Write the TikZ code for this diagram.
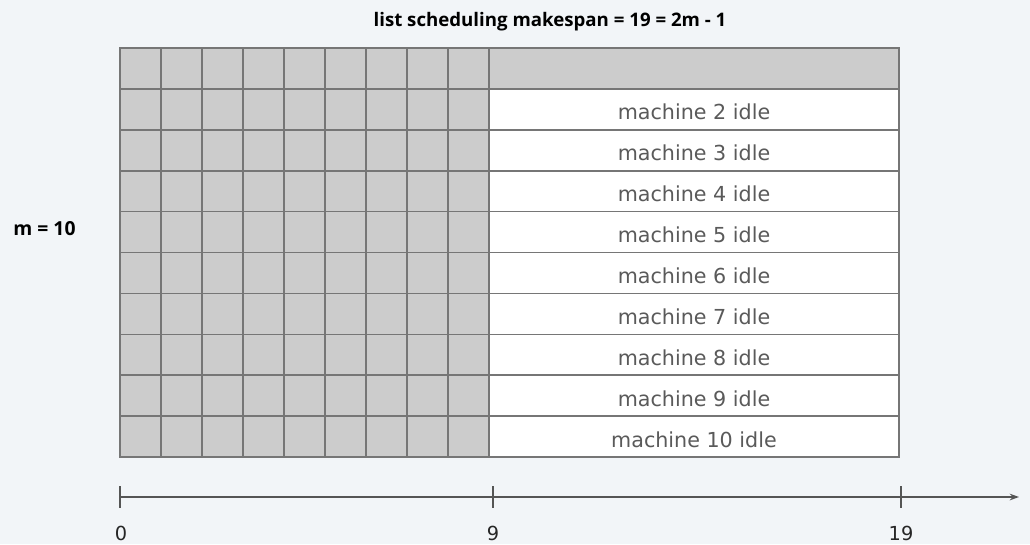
\documentclass[tikz,border=0pt]{standalone}
\usepackage{fontspec}
\setmainfont{DejaVu Sans}
\newfontfamily\titlefont{Open Sans}
\usetikzlibrary{arrows.meta}
\definecolor{bgcol}{HTML}{F2F5F8}
\definecolor{cellfill}{HTML}{CCCCCC}
\definecolor{gridline}{HTML}{767676}
\definecolor{idletext}{HTML}{5A5A5A}
\definecolor{axiscol}{HTML}{555555}
\tikzset{
  job/.style={draw=gridline, fill=cellfill, line width=1.2pt, minimum width=41*0.75pt, minimum height=40.9*0.75pt, inner sep=0pt, outer sep=0pt, anchor=north west},
  idle/.style={draw=gridline, fill=white, line width=1.2pt, minimum width=410*0.75pt, minimum height=40.9*0.75pt, inner sep=0pt, outer sep=0pt, anchor=north west, text=idletext, font=\fontsize{15.5}{18}\selectfont, text depth=0pt},
  busy/.style={idle, fill=cellfill},
  tick/.style={draw=axiscol, line width=1pt},
  ticklabel/.style={font=\fontsize{14.5}{17}\selectfont, text=black!85},
  heading/.style={font=\titlefont\bfseries\fontsize{14}{17}\selectfont}
}
\begin{document}
\begin{tikzpicture}[x=0.75pt, y=-0.75pt]
  \fill[bgcol] (0,0) rectangle (1030,544);
  \useasboundingbox (0,0) rectangle (1030,544);

  % job cells: 10 machines x 9 unit jobs
  \foreach \r in {1,...,10} {
    \foreach \c in {1,...,9} {
      \node[job] (j\r-\c) at ({120+41*(\c-1)}, {48+40.9*(\r-1)}) {};
    }
  }
  % machine 1 keeps working on the long job
  \node[busy] (row1) at (489,48) {};
  % the other machines sit idle
  \foreach \r in {2,...,10} {
    \node[idle] (row\r) at (489, {48+40.9*(\r-1)}) {\raisebox{-4pt}{machine \r\ idle}};
  }

  \node[heading] (title) at (550,22) {list scheduling makespan = 19 = 2m - 1};
  \node[heading, font=\titlefont\bfseries\fontsize{14.5}{17}\selectfont] (mlabel) at (44.5,229) {m = 10};

  % time axis
  \coordinate (a0) at (120,497);
  \coordinate (a9) at (493,497);
  \coordinate (a19) at (901,497);
  \coordinate (aend) at (1019,497);
  \draw[axiscol, line width=1.2pt, -{Stealth[length=7pt,width=5pt]}] (a0) -- (aend);
  \foreach \p in {a0,a9,a19} {
    \draw[tick] ([yshift=8pt]\p) -- ([yshift=-8pt]\p);
  }
  \node[ticklabel] (l0) at (121,533) {0};
  \node[ticklabel] (l9) at (493,533) {9};
  \node[ticklabel] (l19) at (901,533) {19};
\end{tikzpicture}
\end{document}
